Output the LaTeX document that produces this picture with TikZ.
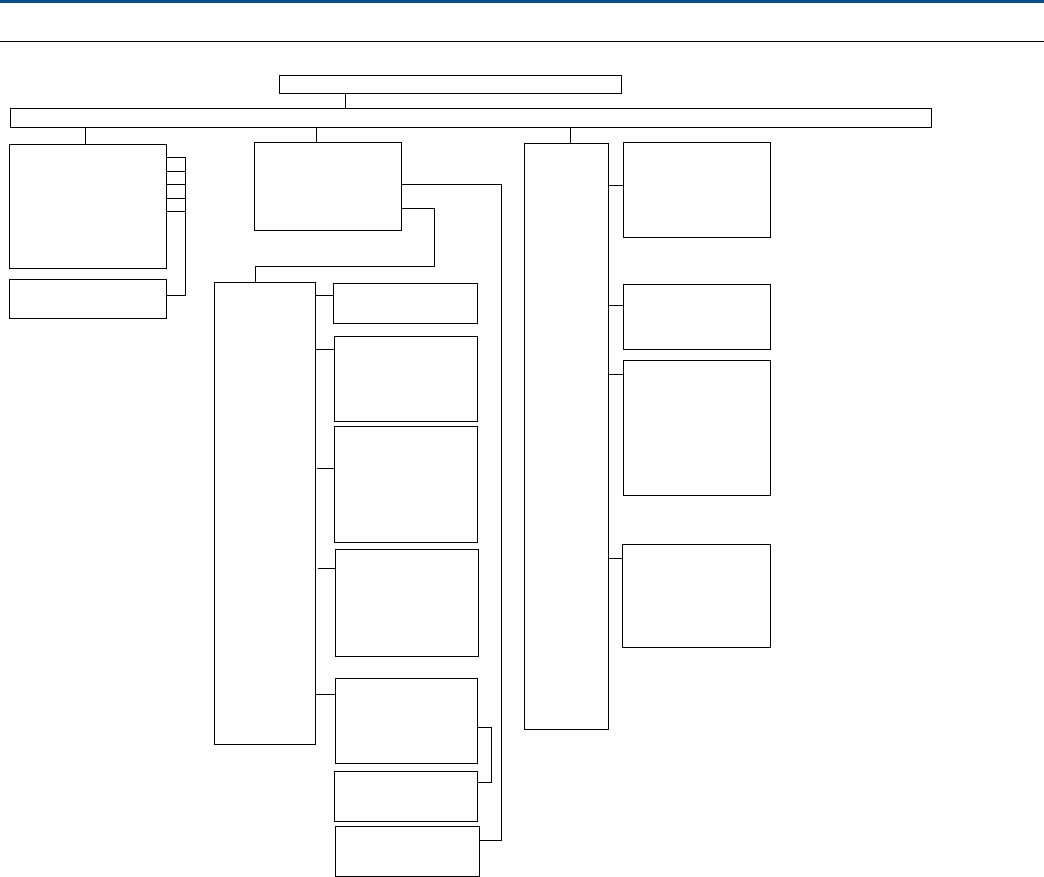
\documentclass[tikz,border=0pt]{standalone}
\definecolor{hdrblue}{RGB}{8,80,140}
\tikzset{
  bx/.style={draw=black,line width=1pt,inner sep=0pt,outer sep=0pt,fill=white},
  ln/.style={draw=black,line width=1pt}
}
\newcommand\bx[5]{\node[bx,minimum width={#4-#2},minimum height={#5-#3}] (#1) at ({(#2+#4)/2},{(#3+#5)/2}) {};}
\begin{document}
\begin{tikzpicture}[x=1pt,y=-1pt]
\useasboundingbox (0,0) rectangle (1044,877);
\fill[hdrblue] (0,0) rectangle (1044,2.6);
\draw[line width=1pt] (0,42) -- (1044,42);
% boxes
\bx{T}{279.3}{75.3}{621}{93.3}
\bx{Bar}{10.3}{108.3}{931}{127.3}
\bx{A}{9.3}{144.3}{166.3}{268.3}
\bx{B}{9.3}{279.3}{166.3}{318.3}
\bx{C}{254.3}{142.3}{401.7}{230.3}
\bx{D}{214.3}{282.3}{315.3}{744.3}
\bx{E1}{333.3}{283.7}{477.7}{323.3}
\bx{E2}{334.3}{336.3}{477.7}{421.3}
\bx{E3}{334.3}{426.3}{477.7}{542.3}
\bx{E4}{335.3}{549.3}{478.7}{656.3}
\bx{E5}{335.3}{678.3}{477.3}{763.3}
\bx{E6}{334.3}{771.3}{477.7}{821.7}
\bx{E7}{335.3}{826.3}{479.7}{876.4}
\bx{F}{524.3}{143.3}{608.3}{729.7}
\bx{G1}{623.3}{142.3}{770.7}{237.3}
\bx{G2}{623.3}{284.3}{770.7}{349.3}
\bx{G3}{623.3}{360.3}{770.7}{495.3}
\bx{G4}{622.3}{544.3}{770.7}{647.3}
% junction coordinates
\coordinate (xT) at (345.3,0);
\coordinate (xA) at (85.5,0);
\coordinate (xC) at (316.3,0);
\coordinate (xF) at (570.3,0);
\coordinate (xAB) at (185.3,0);
\coordinate (xC1) at (501.3,0);
\coordinate (xC2) at (434.7,0);
\coordinate (xD) at (255.7,0);
\coordinate (x56) at (491.7,0);
% connectors
\draw[ln] (T.south -| xT) -- (Bar.north -| xT);
\draw[ln] (Bar.south -| xA) -- (A.north -| xA);
\draw[ln] (Bar.south -| xC) -- (C.north -| xC);
\draw[ln] (Bar.south -| xF) -- (F.north -| xF);
\foreach \yy in {157.3,171.3,184.3,198.3,211.3}
  \draw[ln] (A.east |- 0,\yy) -- (xAB |- 0,\yy);
\draw[ln] (xAB |- 0,157.3) -- (xAB |- 0,295.3) -- (B.east |- 0,295.3);
\draw[ln] (C.east |- 0,184.3) -- (xC1 |- 0,184.3) -- (xC1 |- 0,840.3) -- (E7.east |- 0,840.3);
\draw[ln] (C.east |- 0,208.7) -- (xC2 |- 0,208.7) -- (xC2 |- 0,267) -- (xD |- 0,267) -- (xD |- D.north);
\draw[ln] (D.east |- 0,295.3) -- (E1.west |- 0,295.3);
\draw[ln] (D.east |- 0,349.3) -- (E2.west |- 0,349.3);
\draw[ln] (317,468.3) -- (E3.west |- 0,468.3);
\draw[ln] (318,568.3) -- (E4.west |- 0,568.3);
\draw[ln] (D.east |- 0,694) -- (E5.west |- 0,694);
\draw[ln] (E5.east |- 0,727.3) -- (x56 |- 0,727.3) -- (x56 |- 0,782.3) -- (E6.east |- 0,782.3);
\draw[ln] (F.east |- 0,185.7) -- (G1.west |- 0,185.7);
\draw[ln] (F.east |- 0,305.3) -- (G2.west |- 0,305.3);
\draw[ln] (F.east |- 0,374.3) -- (G3.west |- 0,374.3);
\draw[ln] (F.east |- 0,558.3) -- (G4.west |- 0,558.3);
\end{tikzpicture}
\end{document}
